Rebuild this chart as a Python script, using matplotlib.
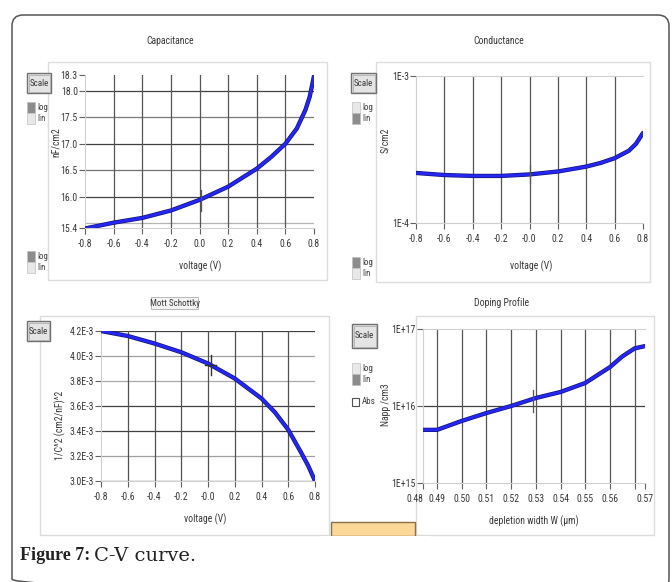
import numpy as np
import matplotlib
matplotlib.use("Agg")
import matplotlib.pyplot as plt
from matplotlib import font_manager
from matplotlib.patches import Rectangle, FancyBboxPatch

# narrow UI font for the instrument panels, if one is available
entries = font_manager.fontManager.ttflist
names = {f.name for f in entries}
narrow = sorted({f.name for f in entries
                 if f.stretch in ('condensed', 'semi-condensed', 'extra-condensed')})
pref = ['Liberation Sans Narrow', 'Roboto Condensed', 'Open Sans Condensed'] + narrow
found = [n for n in pref if n in names]
UI_FONT = found[0] if found else 'Liberation Sans'
FS = 7.0 if found else 6.0
plt.rcParams['font.family'] = [UI_FONT, 'DejaVu Sans']
plt.rcParams['font.stretch'] = 'condensed'

# capacitance vs voltage
cap_v = [-0.8, -0.6, -0.4, -0.2, 0.0, 0.2, 0.4, 0.5, 0.6, 0.68, 0.74, 0.77, 0.8]
cap_c = [15.40, 15.51, 15.60, 15.74, 15.94, 16.19, 16.53, 16.75, 17.0, 17.29, 17.64, 17.89, 18.28]
cap_yticks = [15.4, 16.0, 16.5, 17.0, 17.5, 18.0, 18.3]

# conductance vs voltage
cond_v = [-0.8, -0.6, -0.4, -0.2, 0.0, 0.2, 0.4, 0.5, 0.6, 0.7, 0.75, 0.8]
cond_g = [2.19e-4, 2.12e-4, 2.09e-4, 2.09e-4, 2.14e-4, 2.24e-4, 2.42e-4, 2.56e-4,
          2.76e-4, 3.10e-4, 3.45e-4, 4.10e-4]

# mott schottky 1/C^2
mott_v = [-0.8, -0.6, -0.4, -0.2, 0.0, 0.2, 0.4, 0.5, 0.6, 0.7, 0.75, 0.8]
mott_y = [4.20e-3, 4.16e-3, 4.10e-3, 4.03e-3, 3.94e-3, 3.82e-3, 3.66e-3, 3.55e-3,
          3.41e-3, 3.22e-3, 3.12e-3, 3.00e-3]
mott_yticks = [3.0e-3, 3.2e-3, 3.4e-3, 3.6e-3, 3.8e-3, 4.0e-3, 4.2e-3]

# doping profile
dop_w = [0.4843, 0.49, 0.50, 0.51, 0.52, 0.53, 0.54, 0.55, 0.56, 0.565, 0.57, 0.5742]
dop_n = [4.9e15, 4.9e15, 6.4e15, 8.1e15, 1.0e16, 1.27e16, 1.52e16, 1.99e16,
         3.2e16, 4.4e16, 5.6e16, 6.0e16]

volt_ticks = [-0.8, -0.6, -0.4, -0.2, 0.0, 0.2, 0.4, 0.6, 0.8]
volt_labels = ['-0.8', '-0.6', '-0.4', '-0.2', '-0.0', '0.2', '0.4', '0.6', '0.8']

W, H = 672, 582
fig = plt.figure(figsize=(W / 100, H / 100), dpi=100)
fig.patch.set_facecolor('white')

# pixel overlay for frames, buttons and captions
ov = fig.add_axes([0, 0, 1, 1])
ov.set_xlim(0, W)
ov.set_ylim(H, 0)
ov.axis('off')

TXT = '#383838'


def px_axes(x0, y0, x1, y1):
    return fig.add_axes([x0 / W, 1 - y1 / H, (x1 - x0) / W, (y1 - y0) / H])


def style(ax, top=False):
    ax.set_facecolor('white')
    for s in ax.spines.values():
        s.set_color('#d0d0d0')
        s.set_linewidth(0.8)
    ax.spines['right'].set_visible(False)
    ax.spines['top'].set_visible(top)
    ax.tick_params(labelsize=FS, length=4, width=0.8, color='#606060',
                   labelcolor=TXT, pad=1.2)
    ax.tick_params(axis='x', pad=3.8)
    ax.tick_params(which='minor', length=0)


def curve(ax, x, y):
    ax.plot(x, y, color='#12127a', lw=3.1, solid_capstyle='round', zorder=5)
    ax.plot(x, y, color='#2626f2', lw=2.1, solid_capstyle='round', zorder=6)


def label(x, y, s, rot=0, size=None):
    ov.text(x, y, s, ha='center', va='center', rotation=rot,
            fontsize=size or FS, color=TXT)


def scale_button(x, y, w=24, h=20):
    ov.add_patch(Rectangle((x, y), w, h, facecolor='#e4e4e4', edgecolor='#707070', lw=1.0))
    ov.add_patch(Rectangle((x + 1.5, y + 1.5), w - 3, h - 3, facecolor='none',
                           edgecolor='#b0b0b0', lw=0.6))
    label(x + w / 2, y + h / 2, 'Scale', size=FS - 0.5)


def log_lin(x, y, log_on):
    top, bot = ('#8c8c8c', '#e8e8e8') if log_on else ('#e8e8e8', '#8c8c8c')
    ov.add_patch(Rectangle((x, y), 8, 11, facecolor=top, edgecolor='#c0c0c0', lw=0.5))
    ov.add_patch(Rectangle((x, y + 11), 8, 11, facecolor=bot, edgecolor='#c0c0c0', lw=0.5))
    ov.text(x + 10, y + 5.5, 'log', va='center', fontsize=FS - 0.5, color='#404040')
    ov.text(x + 10, y + 16.5, 'lin', va='center', fontsize=FS - 0.5, color='#404040')


def panel_box(x0, y0, x1, y1):
    ov.add_patch(Rectangle((x0, y0), x1 - x0, y1 - y0, facecolor='none',
                           edgecolor='#dcdcdc', lw=1.0))


# outer rounded frame
ov.add_patch(FancyBboxPatch((12, 15), 657, 575, boxstyle='round,pad=0,rounding_size=11',
                            facecolor='none', edgecolor='#555555', lw=1.1, clip_on=False))

panel_box(48, 62, 327, 280)
panel_box(376, 62, 650, 282)
panel_box(40, 316, 329, 535)
panel_box(416, 316, 654, 535)

# ---- Capacitance ----
ax1 = px_axes(85, 75, 314, 228.5)
style(ax1)
for yv, c in [(18.0, '#404040'), (17.5, '#7a7a7a'), (17.0, '#404040'),
              (16.5, '#707070'), (16.0, '#404040'), (15.5, '#b4b4b4')]:
    ax1.axhline(yv, color=c, lw=0.9, zorder=1)
for xv in volt_ticks[1:-1]:
    ax1.axvline(xv, color='#555555', lw=0.9, zorder=1)
curve(ax1, cap_v, cap_c)
ax1.plot([0.01, 0.01], [15.74, 16.12], color='#555555', lw=0.9, zorder=7)
ax1.set_xlim(-0.8, 0.8)
ax1.set_ylim(15.4, 18.3)
ax1.set_xticks(volt_ticks, ['-0.8', '-0.6', '-0.4', '-0.2', '0.0', '0.2', '0.4', '0.6', '0.8'])
ax1.set_yticks(cap_yticks, [f'{t:.1f}' for t in cap_yticks])
label(170, 41, 'Capacitance')
label(200, 266, 'voltage (V)')
label(56, 142, 'nF/cm2', rot=90)
scale_button(27, 73)
log_lin(27, 102, True)
log_lin(27, 251, True)

# ---- Conductance ----
ax2 = px_axes(416, 76, 643, 223)
style(ax2, top=True)
ax2.set_yscale('log')
for xv in volt_ticks[1:-1]:
    ax2.axvline(xv, color='#555555', lw=0.9, zorder=1)
curve(ax2, cond_v, cond_g)
ax2.plot([0.0, 0.0], [1.87e-4, 2.48e-4], color='#555555', lw=0.9, zorder=7)
ax2.set_xlim(-0.8, 0.8)
ax2.set_ylim(1e-4, 1e-3)
ax2.set_xticks(volt_ticks, volt_labels)
ax2.set_yticks([1e-4, 1e-3], ['1E-4', '1E-3'])
ax2.yaxis.set_minor_locator(matplotlib.ticker.NullLocator())
label(499, 41, 'Conductance')
label(531, 266, 'voltage (V)')
label(385, 140, 'S/cm2', rot=90)
scale_button(351, 73, 25, 20)
log_lin(352, 102, False)
log_lin(352, 257, True)

# ---- Mott Schottky ----
ax3 = px_axes(101, 331, 315, 481)
style(ax3)
for yv, c in zip(mott_yticks, ['#404040', '#a0a0a0', '#404040', '#404040',
                               '#a8a8a8', '#a0a0a0', '#404040']):
    ax3.axhline(yv, color=c, lw=0.9, zorder=1)
for xv in volt_ticks[1:-1]:
    ax3.axvline(xv, color='#505050', lw=0.9, zorder=1)
curve(ax3, mott_v, mott_y)
ax3.plot([0.02, 0.02], [3.85e-3, 4.01e-3], color='#303030', lw=1.0, zorder=7)
ax3.plot([-0.02, 0.06], [3.93e-3, 3.93e-3], color='#303030', lw=1.0, zorder=7)
ax3.set_xlim(-0.8, 0.8)
ax3.set_ylim(3.0e-3, 4.2e-3)
ax3.set_xticks(volt_ticks, volt_labels)
ax3.set_yticks(mott_yticks, [f'{t * 1e3:.1f}E-3' for t in mott_yticks])
ov.add_patch(Rectangle((151, 297), 47, 12, facecolor='#f4f4f4', edgecolor='#b8b8b8', lw=0.7))
label(174.5, 303, 'Mott Schottky', size=FS - 0.5)
label(205, 519, 'voltage (V)')
label(60, 425, '1/C^2 (cm2/nF)^2', rot=90)
scale_button(27, 321, 23, 20)

# ---- Doping Profile ----
ax4 = px_axes(423, 329, 645, 483)
style(ax4, top=True)
ax4.set_yscale('log')
ax4.axhline(1e16, color='#404040', lw=0.9, zorder=1)
w_grid = [0.49, 0.50, 0.51, 0.52, 0.53, 0.54, 0.55, 0.56, 0.57]
for xv in w_grid:
    ax4.axvline(xv, color='#555555', lw=0.9, zorder=1)
curve(ax4, dop_w, dop_n)
ax4.plot([0.5289, 0.5289], [8.4e15, 1.62e16], color='#555555', lw=0.9, zorder=7)
ax4.set_xlim(dop_w[0], dop_w[-1])
ax4.set_ylim(1e15, 1e17)
ax4.set_xticks([dop_w[0]] + w_grid + [dop_w[-1]],
               ['0.48'] + [f'{t:.2f}' for t in w_grid[:-1]] + ['', '0.57'])
ax4.get_xticklabels()[0].set_horizontalalignment('right')
ax4.set_yticks([1e15, 1e16, 1e17], ['1E+15', '1E+16', '1E+17'])
ax4.yaxis.set_minor_locator(matplotlib.ticker.NullLocator())
label(502, 303, 'Doping Profile')
label(534, 521, 'depletion width W (\u00b5m)')
label(386, 405, 'Napp /cm3', rot=90)
scale_button(352, 324, 25, 24)
log_lin(352, 363, False)
ov.add_patch(Rectangle((352, 398), 7, 8, facecolor='white', edgecolor='#505050', lw=0.8))
ov.text(362, 402, 'Abs', va='center', fontsize=FS - 0.5, color='#404040')

# partially hidden orange button between the lower panels
ov.add_patch(Rectangle((331, 522), 84, 14, facecolor='#fbd898', edgecolor='#8a7048', lw=1.0))
ov.add_patch(Rectangle((320, 536), 110, 10, facecolor='white', edgecolor='none'))

# caption
ov.text(20, 556, 'Figure 7:', ha='left', va='center', fontsize=13, fontweight='bold',
        family='Liberation Serif', fontstretch='normal', color='#222222')
ov.text(94, 556, 'C-V curve.', ha='left', va='center', fontsize=14,
        family='DejaVu Serif', fontstretch='normal', color='#222222')

fig.savefig('out.png', dpi=100, facecolor='white')
